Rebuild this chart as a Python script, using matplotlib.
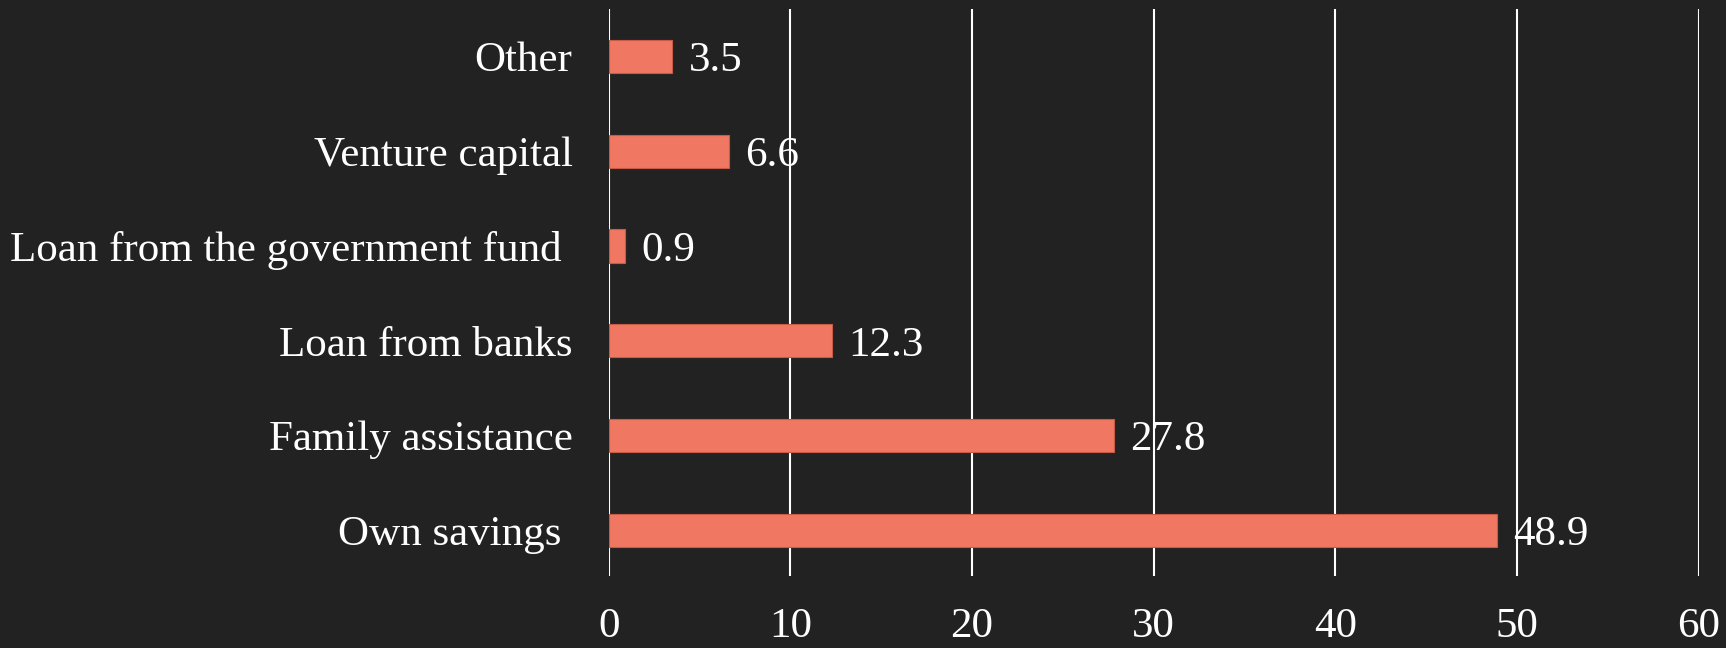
import matplotlib
matplotlib.use("Agg")
import matplotlib.pyplot as plt

categories = ["Own savings ", "Family assistance", "Loan from banks",
              "Loan from the government fund ", "Venture capital", "Other"]
values = [48.9, 27.8, 12.3, 0.9, 6.6, 3.5]
xticks = [0, 10, 20, 30, 40, 50, 60]

bg = "#222222"
bar_color = "#f07862"

plt.rcParams['font.family'] = ['Liberation Serif', 'DejaVu Serif']

fig = plt.figure(figsize=(17.26, 6.48), dpi=100, facecolor=bg)
ax = fig.add_axes([608.7 / 1726, 1 - 576 / 648, (1698.5 - 608.7) / 1726, (576 - 9) / 648])
ax.set_facecolor(bg)

pos = range(len(categories))
bars = ax.barh(pos, values, height=0.35, color=bar_color, edgecolor="#c85a48", linewidth=0.8, zorder=3)
for y, v in zip(pos, values):
    ax.text(v + 0.9, y, f"{v}", va="center_baseline", ha="left", fontsize=31, color="white", zorder=4)

ax.set_xlim(0, 60)
ax.set_ylim(-0.48, 5.5)
ax.set_xticks(xticks)
ax.set_yticks(list(pos))
ax.set_yticklabels(categories)
ax.tick_params(axis="x", length=0, pad=23, labelsize=31, labelcolor="white")
ax.tick_params(axis="y", length=0, pad=26, labelsize=31, labelcolor="white")
for lbl in ax.get_yticklabels():
    lbl.set_verticalalignment("center_baseline")
ax.grid(axis="x", color="white", linewidth=1.5, zorder=1)
for s in ax.spines.values():
    s.set_visible(False)

fig.savefig("out.png", dpi=100, facecolor=bg)
